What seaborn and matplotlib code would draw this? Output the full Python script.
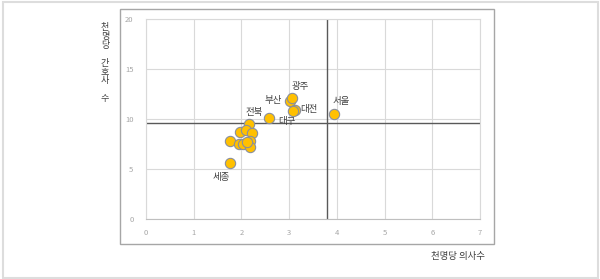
import matplotlib
matplotlib.use("Agg")
import matplotlib.pyplot as plt
import seaborn as sns
import pandas as pd
from matplotlib.patches import Rectangle

regions = ["서울", "부산", "대구", "광주", "대전", "울산", "세종", "전북",
           "경기", "강원", "충북", "충남", "전남", "경북", "경남", "제주", "인천"]
doctors = [3.93, 3.01, 2.57, 3.07, 3.13, 3.08, 1.77, 2.16,
           1.98, 2.10, 2.22, 1.77, 1.94, 2.04, 2.19, 2.17, 2.12]
nurses = [10.47, 11.83, 10.13, 12.07, 10.95, 10.85, 5.57, 9.50,
          8.73, 8.95, 8.63, 7.80, 7.50, 7.55, 7.83, 7.23, 7.70]
labeled = ["서울", "부산", "대구", "광주", "대전", "전북", "세종"]
mean_doctors = 3.8
mean_nurses = 9.63
x_ticks = [0, 1, 2, 3, 4, 5, 6, 7]
y_ticks = [0, 5, 10, 15, 20]
x_title = "천명당 의사수"
y_title = "천명당 간호사 수"

# label offsets in pixels (dx, dy upward)
label_offsets = {"서울": (8, 13), "부산": (-16, 0), "대구": (18, -4), "광주": (8, 12),
                 "대전": (14, 0), "전북": (5, 11), "세종": (-9, -14)}

df = pd.DataFrame({"region": regions, "doctors": doctors, "nurses": nurses})

sns.set_theme(style="white")
plt.rcParams['font.family'] = ['Noto Sans CJK KR', 'DejaVu Sans']

fig = plt.figure(figsize=(6.0, 2.79), dpi=100)
W, H = 600, 279

# outer frame
fig.patches.append(Rectangle((3 / W, 1.5 / H), (598 - 3) / W, (277 - 1.5) / H,
                             transform=fig.transFigure, fill=False,
                             edgecolor="#DDDDDD", linewidth=1.5))
# inner chart box
fig.patches.append(Rectangle((120 / W, (H - 244) / H), (494 - 120) / W, (244 - 9) / H,
                             transform=fig.transFigure, fill=False,
                             edgecolor="#A6A6A6", linewidth=1.0))

ax = fig.add_axes([146 / W, (H - 219) / H, (480 - 146) / W, (219 - 19) / H])
ax.set_facecolor("none")

ax.axvline(mean_doctors, color="#595959", lw=1.0, zorder=2)
ax.axhline(mean_nurses, color="#595959", lw=1.0, zorder=2)

sns.scatterplot(data=df, x="doctors", y="nurses", ax=ax, color="#FFC000",
                edgecolor="#8A8F9C", linewidth=0.8, s=55, zorder=3, legend=False)

for r, x, y in zip(regions, doctors, nurses):
    if r in labeled:
        dx, dy = label_offsets[r]
        ax.annotate(r, (x, y), xytext=(dx * 0.72, dy * 0.72), textcoords="offset points",
                    ha="center", va="center", fontsize=6.8, color="#404040", zorder=4)

ax.set_xlim(0, 7)
ax.set_ylim(0, 20)
ax.set_xticks(x_ticks)
ax.set_yticks(y_ticks)
ax.set_xticklabels([str(t) for t in x_ticks])
ax.set_yticklabels([str(t) for t in y_ticks])
ax.tick_params(axis="both", length=0, labelsize=5.5, labelcolor="#A6A6A6")
ax.tick_params(axis="x", pad=7)
ax.tick_params(axis="y", pad=9)
ax.grid(True, color="#D9D9D9", linewidth=0.8)
ax.set_axisbelow(True)
for side in ["top", "right", "left"]:
    ax.spines[side].set_color("#D9D9D9")
    ax.spines[side].set_linewidth(0.8)
ax.spines["bottom"].set_color("#BFBFBF")
ax.spines["bottom"].set_linewidth(0.8)
ax.set_xlabel("")
ax.set_ylabel("")

fig.text(458 / W, (H - 256) / H, x_title, ha="center", va="center",
         fontsize=6.8, color="#404040")
fig.text(105 / W, (H - 63) / H, "\n".join(list(y_title)), ha="center", va="center",
         fontsize=6.5, color="#404040", linespacing=0.98)

fig.savefig("out.png", dpi=100)
